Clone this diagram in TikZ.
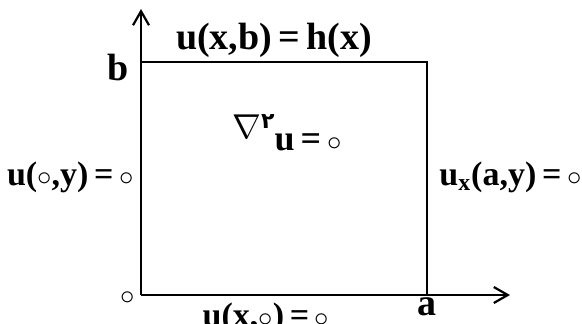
\documentclass[tikz,border=0pt]{standalone}
\usepackage{fontspec}
\setmainfont{Liberation Serif}
\newfontfamily\farsi[Script=Arabic]{DejaVu Sans}
\usetikzlibrary{arrows.meta}
\newcommand{\zr}{{\fontsize{14}{14}\selectfont$\circ$}}

\begin{document}
\begin{tikzpicture}[x=0.5pt,y=0.5pt,>={Straight Barb[length=7pt,width=8pt]},
    lbl/.style={font=\fontsize{19}{21}\selectfont\bfseries,inner sep=0pt},
    side/.style={lbl,font=\fontsize{17}{19}\selectfont\bfseries}]
    \useasboundingbox (0,0) rectangle (582,323);
    \coordinate (O) at (141,28);
    \coordinate (A) at (427,28);
    \coordinate (C) at (427,261);
    \coordinate (B) at (141,261);
    \coordinate (X) at (510,28);
    \coordinate (Y) at (141,314);
    \draw[->,line width=1.1pt] (O) -- (X);
    \draw[->,line width=1.1pt] (O) -- (Y);
    \draw[line width=1.1pt] (B) -- (C) -- (A);
    \node[lbl] (top) at (274,283) {u(x,b)\,=\,h(x)};
    \node[lbl] (lb) at (118,256) {b};
    \node[lbl,font=\fontsize{18}{20}\selectfont\bfseries] (pde) at (287,190)
        {\raisebox{0.33em}{$\nabla$}\raisebox{0.6em}{\fontsize{11}{11}\farsi ۲}u\,=\,\zr};
    \node[side,anchor=east] (left) at (134,146) {u(\zr,y)\,=\,\zr};
    \node[side,anchor=west] (right) at (439,146) {u\textsubscript{x}(a,y)\,=\,\zr};
    \node[lbl] (orig) at (128,25) {\zr};
    \node[lbl] (la) at (427,16) {a};
    \node[side,anchor=base] (bot) at (266,-3) {u(x,\zr)\,=\,\zr};
\end{tikzpicture}
\end{document}
